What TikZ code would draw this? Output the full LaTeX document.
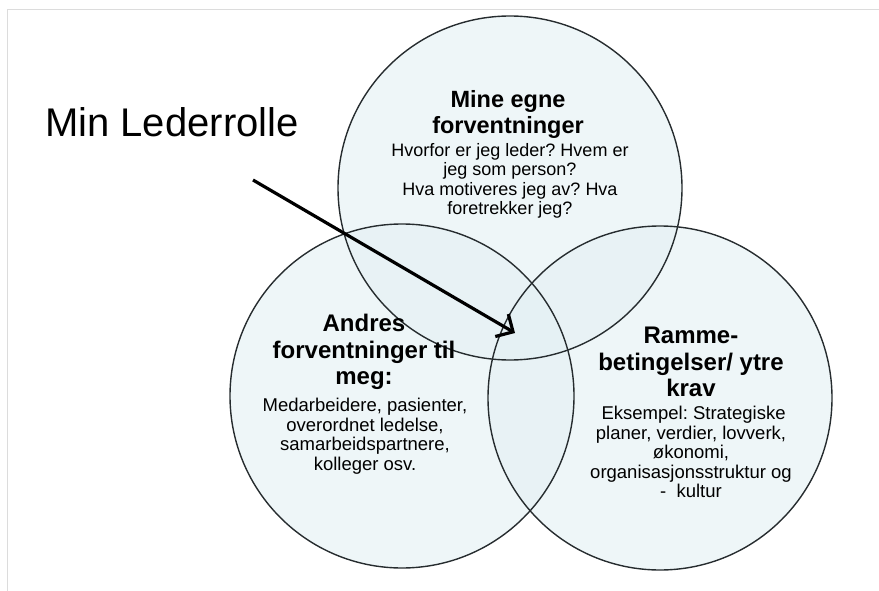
\documentclass[tikz,border=0pt]{standalone}
\usepackage{fontspec}
\setmainfont{Liberation Sans}
\usetikzlibrary{arrows.meta}
\definecolor{bubA}{HTML}{E4F0F3}
\definecolor{bubB}{HTML}{C6DDE3}
\definecolor{bubC}{HTML}{76A5B2}
\definecolor{bubD}{HTML}{CFE6EC}
\definecolor{rim}{HTML}{262C2F}
\definecolor{frame}{HTML}{DCDCDC}
\pgfdeclareradialshading{bubble}{\pgfpoint{0bp}{0bp}}{color(0bp)=(bubA); color(26bp)=(bubA); color(41bp)=(bubB); color(48bp)=(bubC); color(50bp)=(bubD)}
\tikzset{
  ball/.style={circle, minimum size=344pt, inner sep=0pt, shading=bubble, fill opacity=0.62},
  title/.style={align=center, font=\bfseries\fontsize{24}{26.5}\selectfont},
  body/.style={align=center, font=\fontsize{18.5}{19.5}\selectfont}
}
\frenchspacing
\begin{document}
\begin{tikzpicture}[x=1pt,y=-1pt]
    \useasboundingbox (0,0) rectangle (879,591);
    \draw[frame, line width=1pt] (7,591) -- (7,10) -- (879,10);
    % the three bubbles
    \node[ball] (egne) at (510,188) {};
    \node[ball] (andre) at (402,396) {};
    \node[ball] (ramme) at (660,398) {};
    \foreach \c in {egne,andre,ramme}
      \draw[rim, line width=1.4pt] (\c) circle[radius=172pt];
    \node[title, font=\bfseries\fontsize{23.5}{26}\selectfont] (egnetittel) at (508,114) {Mine egne\\forventninger};
    \node[body, font=\fontsize{18}{19.5}\selectfont] (egnetekst) at (510,181) {Hvorfor er jeg leder? Hvem er\\jeg som person?\\Hva motiveres jeg av? Hva\\foretrekker jeg?};
    \node[title] (andretittel) at (364,352) {Andres\\forventninger til\\meg:};
    \node[body] (andretekst) at (365,436) {Medarbeidere, pasienter,\\overordnet ledelse,\\samarbeidspartnere,\\kolleger osv.};
    \node[title] (rammetittel) at (691,362) {Ramme-\\betingelser/ ytre\\krav};
    \node[body] (rammetekst) at (691,452) {\ Eksempel: Strategiske\\planer, verdier, lovverk,\\økonomi,\\organisasjonsstruktur og\\-\ \ kultur};
    % label and arrow
    \node[anchor=base west, font=\fontsize{40}{44}\selectfont, inner sep=0pt] (rolle) at (45,137) {Min Lederrolle};
    \coordinate (pilstart) at (253,180);
    \coordinate (piltupp) at (515,333);
    \draw[line width=3.2pt, -{Straight Barb[length=13pt,width=26pt]}] (pilstart) -- (piltupp);
\end{tikzpicture}
\end{document}
